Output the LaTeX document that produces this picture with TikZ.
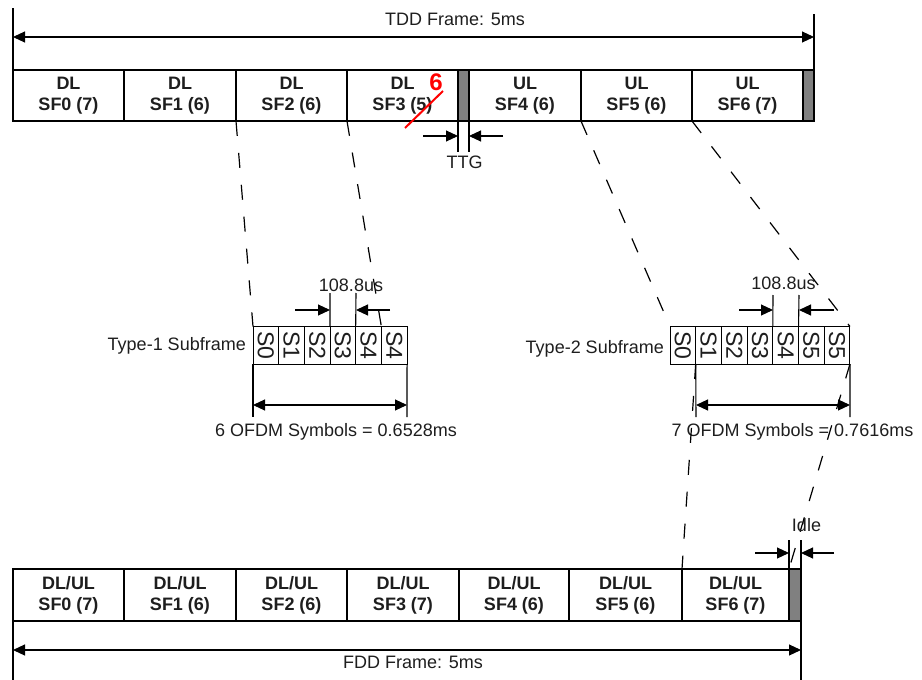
\documentclass[tikz,border=0pt]{standalone}
\usepackage{fontspec}
\setmainfont{Liberation Sans}
\usepackage{graphicx}
\usetikzlibrary{arrows.meta,calc}
\definecolor{txt}{RGB}{30,30,30}
\definecolor{bar}{RGB}{128,128,128}
\begin{document}
\begin{tikzpicture}[x=1pt,y=-1pt,
  every node/.style={text=txt},
  ln/.style={line width=1.1pt, draw=black},
  cell/.style={draw, line width=1.2pt, minimum height=51pt, inner sep=0pt, outer sep=0pt,
    anchor=north west, align=center, font=\bfseries\fontsize{18}{21}\selectfont},
  gapbar/.style={cell, fill=bar},
  sym/.style={draw, line width=1pt, minimum width=25.7pt, minimum height=37.5pt, inner sep=0pt,
    outer sep=0pt, anchor=north west, font=\fontsize{23}{26}\selectfont},
  lbl/.style={font=\fontsize{18}{21}\selectfont, inner sep=0pt, anchor=base},
  arr/.style={ln, -{Triangle[length=12pt,width=11pt]}},
  darr/.style={ln, {Triangle[length=12pt,width=11pt]}-{Triangle[length=12pt,width=11pt]}},
  dsh/.style={line width=1.2pt, dash pattern=on 15pt off 17pt}
]
\useasboundingbox (0,0) rectangle (922,680);

% ---------- TDD frame ----------
\node[cell, minimum width=111pt] (t0) at (13,70) {DL\\SF0 (7)};
\node[cell, minimum width=112pt] (t1) at (124,70) {DL\\SF1 (6)};
\node[cell, minimum width=111pt] (t2) at (236,70) {DL\\SF2 (6)};
\node[cell, minimum width=111pt] (t3) at (347,70) {DL\\SF3 (5)};
\node[gapbar, minimum width=11pt] (ttg) at (458,70) {};
\node[cell, minimum width=112pt] (t4) at (469,70) {UL\\SF4 (6)};
\node[cell, minimum width=111pt] (t5) at (581,70) {UL\\SF5 (6)};
\node[cell, minimum width=111pt] (t6) at (692,70) {UL\\SF6 (7)};
\node[gapbar, minimum width=11pt] (tend) at (803,70) {};

% red correction
\coordinate (rs1) at (405,128);
\coordinate (rs2) at (443,91);
\draw[red, line width=2pt] (rs1) -- (rs2);
\node[font=\bfseries\fontsize{24}{28}\selectfont, text=red, inner sep=0pt, anchor=base] (six) at (436,90) {6};

% TDD dimension
\coordinate (tddL) at (13,8);
\coordinate (tddR) at (814,14);
\draw[ln] (t0.north west) -- (tddL);
\draw[ln] (tend.north east) -- (tddR);
\coordinate (tddA) at (13,37);
\coordinate (tddB) at (814,37);
\draw[darr] (tddA) -- (tddB);
\node[lbl] (tddlbl) at (455,25.5) {TDD Frame: 5ms};

% TTG
\coordinate (ttgL) at (458,152);
\coordinate (ttgR) at (469,152);
\draw[ln] (ttg.south west) -- (ttgL);
\draw[ln] (ttg.south east) -- (ttgR);
\coordinate (ttga1) at (423,136);
\coordinate (ttga2) at (458,136);
\coordinate (ttgb1) at (503,136);
\coordinate (ttgb2) at (469,136);
\draw[arr] (ttga1) -- (ttga2);
\draw[arr] (ttgb1) -- (ttgb2);
\node[lbl] (ttglbl) at (464.5,168.5) {TTG};

% ---------- Type-1 subframe ----------
\foreach \i/\t in {0/S0,1/S1,2/S2,3/S3,4/S4,5/S4}
  \node[sym] (a\i) at ({253+25.67*\i},326.5) {\rotatebox{-90}{\t}};
\node[lbl, anchor=base east] (type1) at (246,350) {Type-1 Subframe};

\draw[dsh] (t2.south west) -- (a0.north west);
\draw[dsh] (t2.south east) -- (a5.north west);

% 108.8us type-1
\coordinate (u1a) at (330,293);
\coordinate (u1b) at (356,293);
\draw[ln] (a3.north west) -- (u1a);
\draw[ln] (a4.north west) -- (u1b);
\coordinate (u1c) at (295,310);
\coordinate (u1d) at (330,310);
\coordinate (u1e) at (390,310);
\coordinate (u1f) at (356,310);
\draw[arr] (u1c) -- (u1d);
\draw[arr] (u1e) -- (u1f);
\node[lbl] (us1) at (351,291.5) {108.8us};

% 6 OFDM
\coordinate (o1a) at (253,417);
\coordinate (o1b) at (407,417);
\draw[ln] (a0.south west) -- (o1a);
\draw[ln] (a5.south east) -- (o1b);
\coordinate (o1c) at (253,405);
\coordinate (o1d) at (407,405);
\draw[darr] (o1c) -- (o1d);
\node[lbl] (ofdm1) at (336,436.5) {6 OFDM Symbols = 0.6528ms};

% ---------- Type-2 subframe ----------
\foreach \i/\t in {0/S0,1/S1,2/S2,3/S3,4/S4,5/S5,6/S5}
  \node[sym] (b\i) at ({670+25.71*\i},326.5) {\rotatebox{-90}{\t}};
\node[lbl, anchor=base east] (type2) at (664,353.5) {Type-2 Subframe};

\draw[dsh] (t5.south west) -- (b0.north west);
\draw[dsh] (t5.south east) -- (b6.north east);

% 108.8us type-2
\coordinate (u2a) at (773,295);
\coordinate (u2b) at (799,295);
\draw[ln] (b4.north west) -- (u2a);
\draw[ln] (b5.north west) -- (u2b);
\coordinate (u2c) at (739,310);
\coordinate (u2d) at (773,310);
\coordinate (u2e) at (834,310);
\coordinate (u2f) at (799,310);
\draw[arr] (u2c) -- (u2d);
\draw[arr] (u2e) -- (u2f);
\node[lbl] (us2) at (783.5,289.5) {108.8us};

% 7 OFDM
\coordinate (o2a) at (696,417);
\coordinate (o2b) at (850,417);
\draw[ln] (b1.south west) -- (o2a);
\draw[ln] (b6.south east) -- (o2b);
\coordinate (o2c) at (696,405);
\coordinate (o2d) at (850,405);
\draw[darr] (o2c) -- (o2d);
\node[lbl] (ofdm2) at (792.5,436.5) {7 OFDM Symbols = 0.7616ms};

% ---------- FDD frame ----------
\begin{scope}[cell/.append style={minimum height=52pt}]
\node[cell, minimum width=111pt] (f0) at (13,569) {DL/UL\\SF0 (7)};
\node[cell, minimum width=112pt] (f1) at (124,569) {DL/UL\\SF1 (6)};
\node[cell, minimum width=111pt] (f2) at (236,569) {DL/UL\\SF2 (6)};
\node[cell, minimum width=112pt] (f3) at (347,569) {DL/UL\\SF3 (7)};
\node[cell, minimum width=110pt] (f4) at (459,569) {DL/UL\\SF4 (6)};
\node[cell, minimum width=113pt] (f5) at (569,569) {DL/UL\\SF5 (6)};
\node[cell, minimum width=107pt] (f6) at (682,569) {DL/UL\\SF6 (7)};
\node[gapbar, minimum width=12pt] (idle) at (789,569) {};
\end{scope}
\draw[line width=2.2pt] (f3.north east) -- (f3.south east);

\draw[dsh] (b1.south west) -- (f6.north west);
\draw[dsh] (b6.south east) -- (idle.north west);

% Idle
\coordinate (ida) at (789,540);
\coordinate (idb) at (801,540);
\draw[ln] (idle.north west) -- (ida);
\draw[ln] (idle.north east) -- (idb);
\coordinate (idc) at (755,553);
\coordinate (idd) at (789,553);
\coordinate (ide) at (834,553);
\coordinate (idf) at (801,553);
\draw[arr] (idc) -- (idd);
\draw[arr] (ide) -- (idf);
\node[lbl] (idlelbl) at (806.5,531.5) {Idle};

% FDD dimension
\coordinate (fddL) at (13,680);
\coordinate (fddR) at (801,680);
\draw[ln] (f0.south west) -- (fddL);
\draw[ln] (idle.south east) -- (fddR);
\coordinate (fddA) at (13,650);
\coordinate (fddB) at (801,650);
\draw[darr] (fddA) -- (fddB);
\node[lbl] (fddlbl) at (413,668.5) {FDD Frame: 5ms};
\end{tikzpicture}
\end{document}
